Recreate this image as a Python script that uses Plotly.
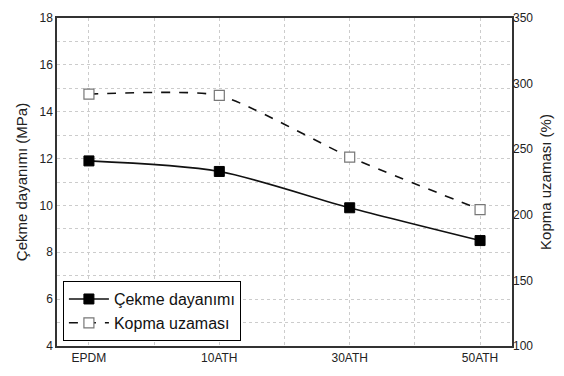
import plotly.graph_objects as go

categories = ["EPDM", "10ATH", "30ATH", "50ATH"]
cekme = [11.9, 11.45, 9.9, 8.5]
kopma = [292, 291, 244, 204]

xpos = list(range(len(categories)))
font = "Liberation Sans, Arial, sans-serif"

fig = go.Figure()
fig.add_trace(go.Scatter(
    x=xpos, y=cekme, name="Çekme dayanımı", mode="lines+markers",
    line=dict(color="#111111", width=1.6, shape="spline", smoothing=0.8),
    marker=dict(symbol="square", size=10, color="black", line=dict(color="black", width=1)),
))
fig.add_trace(go.Scatter(
    x=xpos, y=kopma, name="Kopma uzaması", mode="lines+markers", yaxis="y2",
    line=dict(color="#111111", width=1.6, dash="dash", shape="spline", smoothing=0.55),
    marker=dict(symbol="square", size=10, color="white", line=dict(color="#777777", width=1.2)),
))

fig.update_layout(
    width=564, height=376,
    margin=dict(l=57, r=52, t=11, b=30),
    paper_bgcolor="white", plot_bgcolor="white",
    font=dict(family=font, size=12, color="#222222"),
    showlegend=True,
    legend=dict(
        x=0.013, y=0.015, xanchor="left", yanchor="bottom",
        bordercolor="black", borderwidth=1, bgcolor="white",
        font=dict(size=16, color="#111111"), tracegroupgap=0,
        itemwidth=40,
    ),
    xaxis=dict(
        range=[-0.245, 3.245], tickvals=xpos, ticktext=categories,
        showline=True, linecolor="#333333", linewidth=1.5, mirror=True,
        showgrid=True, gridcolor="#cccccc", griddash="dot", gridwidth=1,
        minor=dict(tickvals=[0.5, 1.5, 2.5], showgrid=True, gridcolor="#cccccc", griddash="dot"),
        ticks="", zeroline=False,
        tickfont=dict(size=12, color="#222222"),
    ),
    yaxis=dict(
        range=[4, 18], dtick=2, title=dict(text="Çekme dayanımı (MPa)", font=dict(size=15, color="#222222"), standoff=8),
        showline=True, linecolor="#333333", linewidth=1.5, mirror=True,
        showgrid=True, gridcolor="#cccccc", griddash="dot", gridwidth=1,
        minor=dict(dtick=1, showgrid=True, gridcolor="#cccccc", griddash="dot"),
        ticks="", zeroline=False,
        tickfont=dict(size=12, color="#222222"),
    ),
    yaxis2=dict(
        range=[100, 350], dtick=50, overlaying="y", side="right",
        title=dict(text="Kopma uzaması (%)", font=dict(size=15, color="#222222"), standoff=8),
        showgrid=False, zeroline=False, ticks="",
        tickfont=dict(size=12, color="#222222"),
    ),
)

fig.write_html("out.html")
